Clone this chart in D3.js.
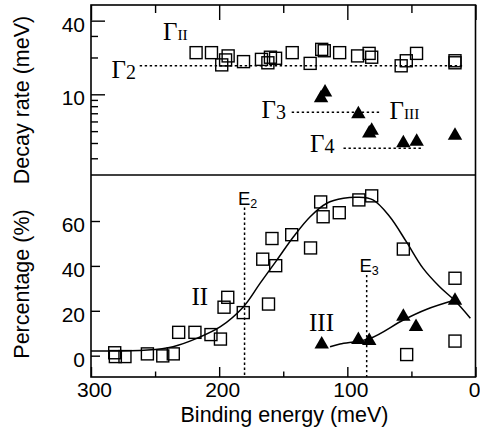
<!DOCTYPE html>
<html><head><meta charset="utf-8">
<script src="https://cdn.jsdelivr.net/npm/d3@7"></script>
<style>body{margin:0;background:#fff}svg{display:block;background:#fff}</style>
</head><body>
<svg id="c" width="480" height="433"></svg>
<script>
// ---- data (binding energy meV, value) ----
const rateII = [[218,21.9],[206,21.9],[198,17.4],[195,19.1],[193,20.6],[181,18.5],[167,19.3],[162,18.1],[160,20.1],[156,19.7],[143,21.9],[129,17.9],[120,23.3],[118,22.7],[106,21.9],[92,20.6],[83,21.6],[81,20.1],[58,17.1],[54,18.8],[46,21.6],[16,18.8],[16,18.1]];
const rateIII = [[120.5,9.3],[117.4,10.4],[91.4,6.9],[82.9,4.8],[81,5.05],[56.3,4.0],[45.9,4.1],[16,4.6]];
const pctII = [[281.5,1.3],[281,-0.4],[273.5,-0.4],[256,0.8],[244,-0.1],[235.8,0.8],[231.6,10.4],[218.9,10.4],[206.4,9.4],[199,7.4],[196.2,21.6],[193.3,26],[181.2,19.2],[166,43],[161.5,23],[158.8,52.2],[155.9,40.1],[143.4,53.9],[128.7,48],[120.8,68.5],[118.9,61.9],[106.3,63.7],[91,69.4],[81,71.2],[56.3,47.5],[53.7,0.5],[16,34.5],[16,6.5]];
const pctIII = [[120,5.1],[91.4,7.1],[82.9,6.6],[56.3,17.4],[46.4,12.8],[16,24.6]];
const fitII = [[300,2.1],[256,2.5],[236,4.0],[217,7.8],[199,12.9],[181,21.8],[168,32.3],[155,42.6],[142,53.0],[129,61.9],[116,67.9],[103,70.1],[92,70.6],[80,69.4],[67,62],[54,50.8],[41,39.0],[28,30.7],[16,24.5],[4,16.7]];
const fitIII = [[113.5,4.0],[105.7,5.2],[82.3,7.7],[56.3,15.9],[38,20.7],[16,24.8]];
// reference levels: [level, from meV, to meV]
const gammaLevels = {G2:[17.1,262,9.5], G3:[7.13,143.4,73.2], G4:[3.62,103,40.7]};
// energies: [meV, top value]
const energyMarks = {E2:[180.2,66], E3:[84.9,36]};
const xTicksMajor = [300,200,100,0];
const xTicksMinor = [250,150,50];
const rateTicksMajor = [10,40];
const rateTicksMinor = [3,4,5,6,7,8,9,20,30];
const pctTicks = [0,20,40,60];

// ---- layout ----
const L=91, R=475.5, T=5, M=175, B=377;
const sans='"Liberation Sans", Arial, Helvetica, sans-serif';
const serif='"Liberation Serif", "Times New Roman", Times, serif';
const svg=d3.select("#c");
const x=d3.scaleLinear().domain([300,0]).range([L,R]);
const yR=d3.scaleLog().domain([2.19,53.7]).range([M,T]);
const yP=d3.scaleLinear().domain([-9.5,80.5]).range([B,M]);

// frame
svg.append("rect").attr("x",L).attr("y",T).attr("width",R-L).attr("height",B-T)
  .attr("fill","none").attr("stroke","#000").attr("stroke-width",1.6);
svg.append("line").attr("x1",L).attr("x2",R).attr("y1",M).attr("y2",M)
  .attr("stroke","#000").attr("stroke-width",1.6);

function ax(g){g.select(".domain").remove();g.selectAll("line").attr("stroke","#000").attr("stroke-width",1.4);
  g.selectAll("text").attr("font-family",sans).attr("font-size",21).attr("fill","#000");}

// top panel axes
svg.append("g").attr("transform",`translate(${L},0)`)
  .call(d3.axisLeft(yR).tickValues(rateTicksMajor).tickSize(-14).tickPadding(6).tickFormat(d3.format("d"))).call(ax)
  .selectAll("text").attr("dy","0.5em");
svg.append("g").attr("transform",`translate(${L},0)`)
  .call(d3.axisLeft(yR).tickValues(rateTicksMinor).tickSize(-7).tickFormat("")).call(ax);
svg.append("g").attr("transform",`translate(0,${T})`)
  .call(d3.axisTop(x).tickValues(xTicksMajor).tickSize(-15).tickFormat("")).call(ax);
svg.append("g").attr("transform",`translate(0,${T})`)
  .call(d3.axisTop(x).tickValues(xTicksMinor).tickSize(-8).tickFormat("")).call(ax);

// bottom panel axes
svg.append("g").attr("transform",`translate(${L},0)`)
  .call(d3.axisLeft(yP).tickValues(pctTicks).tickSize(-9).tickPadding(6)).call(ax)
  .selectAll("text").attr("dy","0.5em");
svg.append("g").attr("transform",`translate(0,${B})`)
  .call(d3.axisBottom(x).tickValues(xTicksMajor).tickSize(-10).tickPadding(5)).call(ax)
  .selectAll("text").attr("dx",d=>d===0?-1.5:3);
svg.append("g").attr("transform",`translate(0,${B})`)
  .call(d3.axisBottom(x).tickValues(xTicksMinor).tickSize(-5.5).tickFormat("")).call(ax);

// axis titles
svg.append("text").attr("x",284.5).attr("y",422).attr("text-anchor","middle")
  .attr("font-family",sans).attr("font-size",21.5).text("Binding energy (meV)");
svg.append("text").attr("transform","translate(29,100) rotate(-90)").attr("text-anchor","middle")
  .attr("font-family",sans).attr("font-size",21.5).text("Decay rate (meV)");
svg.append("text").attr("transform","translate(29,284) rotate(-90)").attr("text-anchor","middle")
  .attr("font-family",sans).attr("font-size",21.5).text("Percentage (%)");

// dotted reference lines
const dash="2.4,2.6";
Object.values(gammaLevels).forEach(([v,a,b])=>{
  svg.append("line").attr("x1",x(a)).attr("x2",x(b)).attr("y1",yR(v)).attr("y2",yR(v))
    .attr("stroke","#000").attr("stroke-width",1.5).attr("stroke-dasharray",dash);
});
Object.values(energyMarks).forEach(([e,top])=>{
  svg.append("line").attr("x1",x(e)).attr("x2",x(e)).attr("y1",yP(top)).attr("y2",B)
    .attr("stroke","#000").attr("stroke-width",1.5).attr("stroke-dasharray",dash);
});

// fit curves
const lineP=d3.line().x(d=>x(d[0])).y(d=>yP(d[1])).curve(d3.curveCatmullRom.alpha(0.5));
svg.append("path").attr("d",lineP(fitII)).attr("fill","none").attr("stroke","#000").attr("stroke-width",1.5);
svg.append("path").attr("d",lineP(fitIII)).attr("fill","none").attr("stroke","#000").attr("stroke-width",1.5);

// markers
const S=12;
function squares(data,y){
  svg.append("g").selectAll("rect").data(data).join("rect")
    .attr("x",d=>x(d[0])-S/2).attr("y",d=>y(d[1])-S/2).attr("width",S).attr("height",S)
    .attr("fill","none").attr("stroke","#000").attr("stroke-width",1.4);
}
const tri=d3.symbol(d3.symbolTriangle,90);
function triangles(data,y){
  svg.append("g").selectAll("path").data(data).join("path")
    .attr("transform",d=>`translate(${x(d[0])},${y(d[1])})`).attr("d",tri).attr("fill","#000");
}
squares(rateII,yR); triangles(rateIII,yR);
squares(pctII,yP); triangles(pctIII,yP);

// labels
function gam(x0,y0,sub,subSize,dy){
  const t=svg.append("text").attr("x",x0).attr("y",y0).attr("font-family",serif).attr("font-size",25);
  t.append("tspan").text("Γ");
  t.append("tspan").attr("font-size",subSize).attr("dy",dy).text(sub);
}
gam(163,39.5,"II",15.5,0);
gam(111.5,77.5,"2",20,1.2);
gam(261.5,117.5,"3",20,1.2);
gam(310,151.5,"4",20,1.2);
gam(389.5,118.5,"III",15.5,0);
svg.append("text").attr("x",191.5).attr("y",305).attr("font-family",serif).attr("font-size",25).text("II");
svg.append("text").attr("x",309).attr("y",331).attr("font-family",serif).attr("font-size",25).text("III");
function eLab(x0,y0,sub){
  const t=svg.append("text").attr("x",x0).attr("y",y0).attr("font-family",sans).attr("font-size",18.5);
  t.append("tspan").text("E");
  t.append("tspan").attr("font-size",12.5).attr("dy",3).text(sub);
}
eLab(238,205,"2");
eLab(359.5,271.5,"3");
</script>
</body></html>
